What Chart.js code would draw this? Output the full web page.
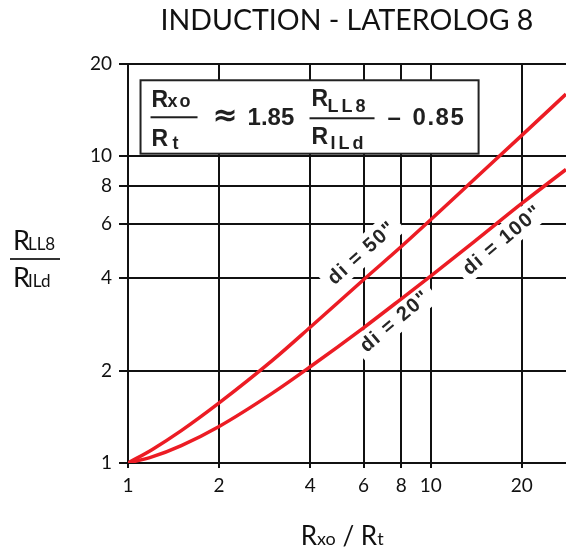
<!DOCTYPE html>
<html><head><meta charset="utf-8">
<script src="https://cdn.jsdelivr.net/npm/chart.js@4"></script>
<style>html,body{margin:0;padding:0;background:#fff}#wrap{width:566px;height:552px}</style>
</head><body><div id="wrap"><canvas id="c" width="566" height="552"></canvas></div>
<script>
// ---- data ----
const titleText = 'INDUCTION - LATEROLOG 8';
const xTickValues = [1, 2, 4, 6, 8, 10, 20];
const yTickValues = [1, 2, 4, 6, 8, 10, 20];
const ratioRxoRt = [1, 1.2, 1.5, 2, 3, 4, 6, 8, 10, 14, 20, 28];
const curveDi50 = [1, 1.105, 1.275, 1.57, 2.16, 2.77, 3.96, 5.08, 6.21, 8.45, 11.7, 15.95];
const curveDi20to100 = [1, 1.047, 1.14, 1.316, 1.69, 2.06, 2.76, 3.43, 4.07, 5.29, 7.02, 9.06];
const curveLabels = ['di = 50"', 'di = 20"', 'di = 100"'];
const curveLabelAnchorX = [5.94, 7.64, 17.3];
const curveLabelAnchorY = [4.83, 2.89, 5.32];
const curveLabelAngle = [-42, -40, -40];
const eqBoxX = [1.10, 14.4];
const eqBoxY = [17.7, 10.2];
const xTitleCenter = 5.1;

const RED = '#ec1c24';
const INK = '#111';

function pts(ys) { return ratioRxoRt.map((x, i) => ({ x: x, y: ys[i] })); }

function drawParts(ctx, parts, x0, y0) {
  parts.forEach(p => {
    ctx.font = p.font;
    ctx.letterSpacing = (p.ls || 0) + 'px';
    ctx.fillText(p.t, x0 + p.x, y0 + p.y);
  });
  ctx.letterSpacing = '0px';
}

const overlay = {
  id: 'overlay',
  beforeDatasetsDraw(chart) {
    const ctx = chart.ctx, xs = chart.scales.x, ys = chart.scales.y;
    ctx.save();
    curveLabels.forEach((txt, i) => {
      const cx = xs.getPixelForValue(curveLabelAnchorX[i]);
      const cy = ys.getPixelForValue(curveLabelAnchorY[i]);
      ctx.save();
      ctx.translate(cx, cy);
      ctx.rotate(curveLabelAngle[i] * Math.PI / 180);
      ctx.font = 'bold 20px "Liberation Sans", Arial, sans-serif';
      ctx.letterSpacing = '1.5px';
      const w = ctx.measureText(txt).width;
      ctx.fillStyle = '#fff';
      ctx.fillRect(-w / 2 - 6, -14, w + 12, 26);
      ctx.fillStyle = '#262626';
      ctx.textAlign = 'center';
      ctx.textBaseline = 'middle';
      ctx.fillText(txt, 0, 0);
      ctx.restore();
    });
    // equation box
    const bx = xs.getPixelForValue(eqBoxX[0]), bx2 = xs.getPixelForValue(eqBoxX[1]);
    const by = ys.getPixelForValue(eqBoxY[0]), by2 = ys.getPixelForValue(eqBoxY[1]);
    ctx.fillStyle = '#fff';
    ctx.fillRect(bx, by, bx2 - bx, by2 - by);
    ctx.strokeStyle = '#222';
    ctx.lineWidth = 2;
    ctx.strokeRect(bx, by, bx2 - bx, by2 - by);
    ctx.fillStyle = '#1f1f1f';
    ctx.textAlign = 'left';
    ctx.textBaseline = 'alphabetic';
    const F = '"Liberation Sans", Arial, sans-serif';
    drawParts(ctx, [
      { t: 'R', x: 11, y: 27, font: 'bold 23px ' + F },
      { t: 'xo', x: 27, y: 27, font: 'bold 18px ' + F, ls: 2 },
      { t: 'R', x: 11, y: 65.3, font: 'bold 23px ' + F },
      { t: 't', x: 32, y: 68.7, font: 'bold 18px ' + F },
      { t: '≈', x: 72, y: 45, font: 'bold 30px "DejaVu Sans", sans-serif' },
      { t: '1.85', x: 107, y: 44.7, font: 'bold 24px ' + F },
      { t: 'R', x: 171, y: 25.3, font: 'bold 23px ' + F },
      { t: 'LL8', x: 187, y: 32, font: 'bold 18px ' + F, ls: 3 },
      { t: 'R', x: 171, y: 63.7, font: 'bold 23px ' + F },
      { t: 'ILd', x: 190, y: 68.7, font: 'bold 18px ' + F, ls: 3 },
      { t: '–', x: 247, y: 44.4, font: 'bold 24px ' + F },
      { t: '0.85', x: 272, y: 44.7, font: 'bold 24px ' + F, ls: 1.5 }
    ], bx, by);
    ctx.fillRect(bx + 10, by + 36, 47, 2);
    ctx.fillRect(bx + 169, by + 37, 65, 2);
    ctx.restore();
  },
  afterDraw(chart) {
    const ctx = chart.ctx, xs = chart.scales.x;
    ctx.save();
    ctx.fillStyle = INK;
    ctx.textBaseline = 'alphabetic';
    ctx.textAlign = 'left';
    const big = '27px Lato, sans-serif', small = '17px Lato, sans-serif';
    // y-axis title (fraction)
    const yl = 13;
    ctx.font = big; ctx.fillText('R', yl, 250);
    let w = ctx.measureText('R').width;
    ctx.font = small; ctx.fillText('LL8', yl + w - 2, 250);
    ctx.font = big; ctx.fillText('R', yl, 287);
    ctx.font = small; ctx.fillText('ILd', yl + w - 2, 287);
    ctx.fillStyle = '#333';
    ctx.fillRect(10, 258, 50, 2);
    // x-axis title
    ctx.fillStyle = INK;
    const bigX = '26px Lato, sans-serif', smallX = '18px Lato, sans-serif';
    const parts = [['R', bigX], ['xo', smallX], [' / ', bigX], ['R', bigX], ['t', smallX]];
    let total = 0;
    parts.forEach(p => { ctx.font = p[1]; total += ctx.measureText(p[0]).width; });
    let x = xs.getPixelForValue(xTitleCenter) - total / 2;
    parts.forEach(p => { ctx.font = p[1]; ctx.fillText(p[0], x, 545); x += ctx.measureText(p[0]).width; });
    ctx.restore();
  }
};

new Chart(document.getElementById('c'), {
  type: 'line',
  data: {
    datasets: [
      { label: curveLabels[0], data: pts(curveDi50), borderColor: RED, borderWidth: 3.5, pointRadius: 0, cubicInterpolationMode: 'monotone', fill: false },
      { label: curveLabels[1] + ' / ' + curveLabels[2], data: pts(curveDi20to100), borderColor: RED, borderWidth: 3.5, pointRadius: 0, cubicInterpolationMode: 'monotone', fill: false }
    ]
  },
  options: {
    responsive: false,
    devicePixelRatio: 1,
    animation: false,
    layout: { padding: 0 },
    plugins: {
      legend: { display: false },
      tooltip: { enabled: false },
      title: {
        display: true, text: titleText, fullSize: false, color: INK,
        font: { family: 'Lato', size: 28.5, weight: 'normal', lineHeight: 1.2 },
        padding: { top: 4, bottom: 25.8 }
      }
    },
    scales: {
      x: {
        type: 'logarithmic', min: 1, max: 28,
        afterBuildTicks: s => { s.ticks = xTickValues.map(v => ({ value: v })); },
        afterFit: s => { s.height = 89; },
        ticks: { callback: v => String(v), color: INK, font: { family: 'Lato', size: 19 }, padding: 6, maxRotation: 0, autoSkip: false },
        grid: { color: INK, lineWidth: 2, tickLength: 5 },
        border: { display: true, color: INK, width: 2 }
      },
      y: {
        type: 'logarithmic', min: 1, max: 20,
        afterBuildTicks: s => { s.ticks = yTickValues.map(v => ({ value: v })); },
        afterFit: s => { s.width = 128; },
        ticks: { callback: v => String(v), color: INK, font: { family: 'Lato', size: 19 }, padding: 7, autoSkip: false },
        grid: { color: INK, lineWidth: 2, tickLength: 9 },
        border: { display: true, color: INK, width: 2 }
      }
    }
  },
  plugins: [overlay]
});
</script></body></html>
